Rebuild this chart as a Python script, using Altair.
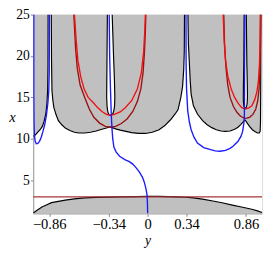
import altair as alt
import pandas as pd

GRAY = "#c0c0c0"
SERIF = "Liberation Serif, Times New Roman, serif"

# ---- upper shaded region: lower boundary (horizontal coord "y", vertical coord "x")
lobeA_y = [-1.0, -0.98, -0.96, -0.94, -0.92, -0.905, -0.89, -0.88, -0.874, -0.871, -0.870]
lobeA_x = [10.3, 10.5, 10.8, 11.1, 11.5, 12.1, 13.0, 14.3, 15.8, 19.0, 25.0]
lobeB_y = [-0.842, -0.840, -0.836, -0.828, -0.82, -0.80, -0.78, -0.75, -0.72, -0.68, -0.64,
           -0.60, -0.55, -0.50, -0.45, -0.40, -0.36, -0.34, -0.33]
lobeB_x = [25.0, 19.5, 15.8, 14.6, 13.8, 12.9, 12.2, 11.7, 11.3, 11.0, 10.8,
           10.7, 10.7, 10.8, 10.95, 11.15, 11.3, 11.4, 11.46]
lobeC_y = [-0.33, -0.31, -0.28, -0.24, -0.19, -0.14, -0.08, -0.02, 0.04, 0.10, 0.15,
           0.20, 0.24, 0.265, 0.29, 0.305, 0.315, 0.32, 0.322]
lobeC_x = [11.46, 11.35, 11.2, 11.05, 10.9, 10.75, 10.65, 10.65, 10.8, 11.1, 11.6,
           12.3, 13.0, 13.5, 15.0, 16.3, 18.3, 20.5, 25.0]
lobeD_y = [0.352, 0.356, 0.364, 0.372, 0.38, 0.40, 0.435, 0.48, 0.52, 0.56, 0.60,
           0.64, 0.68, 0.72, 0.76, 0.79, 0.815, 0.835, 0.85]
lobeD_x = [25.0, 21.5, 19.3, 17.0, 15.4, 14.0, 13.0, 12.2, 11.7, 11.35, 11.1,
           10.95, 10.9, 10.95, 11.15, 11.4, 11.75, 12.05, 12.3]
lobeE_y = [0.85, 0.87, 0.89, 0.915, 0.94, 0.96, 0.975, 0.983, 0.986, 0.988, 0.99]
lobeE_x = [12.3, 11.9, 11.5, 11.1, 10.85, 10.7, 10.7, 10.9, 12.0, 16.0, 25.0]

# ---- white islands (fingers) inside the shaded region: levels, left and right edges
isl1_lvl = [12.8, 12.9, 13.1, 13.5, 14.0, 15.0, 17.0, 20.0, 25.0]
isl1_l = [-0.325, -0.337, -0.345, -0.351, -0.355, -0.358, -0.357, -0.355, -0.352]
isl1_r = [-0.325, -0.312, -0.302, -0.294, -0.289, -0.287, -0.290, -0.298, -0.310]
isl2_lvl = [13.7, 13.8, 14.0, 14.4, 15.0, 16.5, 19.0, 25.0]
isl2_l = [0.853, 0.845, 0.840, 0.837, 0.836, 0.837, 0.840, 0.843]
isl2_r = [0.853, 0.861, 0.866, 0.870, 0.872, 0.871, 0.867, 0.862]

# ---- lower shaded region (upper boundary)
bot_y = [-1.0, -0.96, -0.92, -0.88, -0.84, -0.78, -0.72, -0.64, -0.55, -0.45, -0.356, -0.25,
         -0.1, 0.0, 0.1, 0.18, 0.26, 0.33, 0.40, 0.48, 0.57, 0.65, 0.74, 0.82, 0.91, 0.96, 1.0]
bot_x = [1.05, 1.45, 1.8, 2.05, 2.3, 2.45, 2.6, 2.75, 2.87, 2.93, 2.97, 3.0,
         3.03, 3.05, 3.05, 3.03, 3.0, 2.95, 2.87, 2.72, 2.5, 2.28, 2.0, 1.77, 1.5, 1.3, 1.1]

RED_LEVEL = 3.0

# ---- red curves
red1_y = [-0.64, -0.625, -0.61, -0.585, -0.555, -0.52, -0.47, -0.44, -0.40, -0.36, -0.33,
          -0.29, -0.24, -0.20, -0.14, -0.09, -0.055, -0.035, -0.025, -0.02]
red1_x = [25.0, 22.0, 19.5, 17.5, 16.0, 15.0, 14.3, 13.8, 13.3, 12.95, 12.85,
          12.95, 13.25, 13.7, 14.6, 16.0, 18.0, 20.5, 23.0, 25.0]
dred1_y = [-0.645, -0.63, -0.615, -0.59, -0.55, -0.51, -0.47, -0.42, -0.37, -0.33, -0.28,
           -0.23, -0.18, -0.13, -0.09, -0.06, -0.04, -0.028, -0.02, -0.016]
dred1_x = [25.0, 21.0, 18.5, 16.5, 15.0, 13.6, 12.6, 11.9, 11.5, 11.4, 11.5,
           11.85, 12.4, 13.3, 14.5, 16.0, 18.0, 20.5, 23.0, 25.0]
red2_y = [0.66, 0.668, 0.68, 0.70, 0.73, 0.76, 0.79, 0.82, 0.85, 0.88, 0.91,
          0.935, 0.955, 0.968, 0.977, 0.982, 0.984]
red2_x = [25.0, 22.0, 19.5, 17.6, 16.0, 15.0, 14.3, 13.8, 13.6, 13.7, 14.0,
          14.7, 15.7, 17.0, 19.0, 22.0, 25.0]
dred2_y = [0.665, 0.672, 0.685, 0.70, 0.72, 0.75, 0.78, 0.81, 0.85, 0.89, 0.92,
           0.945, 0.962, 0.973, 0.98, 0.985, 0.988]
dred2_x = [25.0, 21.5, 18.5, 16.5, 15.0, 13.9, 13.2, 12.75, 12.45, 12.6, 12.95,
           13.6, 14.6, 16.0, 18.0, 21.0, 25.0]

# ---- blue curves
blue1_y = [-0.995, -0.995, -0.993, -0.99, -0.983, -0.973, -0.96, -0.945, -0.93, -0.915,
           -0.90, -0.885, -0.872, -0.864, -0.86, -0.858]
blue1_x = [25.0, 16.0, 12.0, 10.5, 9.7, 9.4, 9.45, 9.7, 10.2, 10.9,
           11.7, 12.8, 14.3, 15.75, 18.0, 25.0]
blue2_y = [-0.336, -0.332, -0.325, -0.318, -0.312, -0.305, -0.295, -0.275, -0.245, -0.20,
           -0.16, -0.13, -0.10, -0.07, -0.045, -0.03, -0.015, -0.006, -0.002, 0.0]
blue2_x = [25.0, 20.0, 16.0, 13.0, 11.3, 10.0, 9.0, 8.4, 7.9, 7.5,
           7.25, 6.95, 6.5, 5.95, 5.35, 4.8, 4.0, 3.3, 2.3, 1.0]
blue3_y = [0.335, 0.336, 0.34, 0.35, 0.365, 0.38, 0.405, 0.435, 0.49, 0.55, 0.59, 0.633,
           0.68, 0.72, 0.746, 0.79, 0.815, 0.83, 0.84, 0.845, 0.846, 0.847, 0.85]
blue3_x = [25.0, 19.3, 16.0, 13.4, 12.0, 11.1, 10.2, 9.5, 8.95, 8.7, 8.55, 8.5,
           8.6, 8.85, 9.1, 9.7, 10.3, 10.9, 11.8, 12.6, 14.0, 19.3, 25.0]

X_TICKS = [-0.86, -0.34, 0, 0.34, 0.86]
Y_TICKS = [5, 10, 15, 20, 25]
TOP = 25.0


def seg(name, ys, xs):
    return pd.DataFrame({"y": ys, "x": xs, "k": name, "o": list(range(len(ys)))})


upper = pd.concat([seg("A", lobeA_y, lobeA_x), seg("B", lobeB_y, lobeB_x),
                   seg("C", lobeC_y, lobeC_x), seg("D", lobeD_y, lobeD_x),
                   seg("E", lobeE_y, lobeE_x)], ignore_index=True)
upper["top"] = TOP

islands = pd.concat([
    pd.DataFrame({"lvl": isl1_lvl, "l": isl1_l, "r": isl1_r, "k": "i1"}),
    pd.DataFrame({"lvl": isl2_lvl, "l": isl2_l, "r": isl2_r, "k": "i2"}),
], ignore_index=True)


def outline(name, lvl, left, right):
    ys = list(reversed(left)) + list(right)[1:]
    xs = list(reversed(lvl)) + list(lvl)[1:]
    return seg(name, ys, xs)


bottom = seg("bot", bot_y, bot_x)
bottom["base"] = 1.0

black = pd.concat([seg("A", lobeA_y, lobeA_x), seg("B", lobeB_y, lobeB_x),
                   seg("C", lobeC_y, lobeC_x), seg("D", lobeD_y, lobeD_x),
                   seg("E", lobeE_y, lobeE_x),
                   outline("i1", isl1_lvl, isl1_l, isl1_r),
                   outline("i2", isl2_lvl, isl2_l, isl2_r),
                   bottom[["y", "x", "k", "o"]]], ignore_index=True)

bright = pd.concat([seg("r1", red1_y, red1_x), seg("r2", red2_y, red2_x)], ignore_index=True)
dark = pd.concat([seg("d1", dred1_y, dred1_x), seg("d2", dred2_y, dred2_x)], ignore_index=True)
blues = pd.concat([seg("b1", blue1_y, blue1_x), seg("b2", blue2_y, blue2_x),
                   seg("b3", blue3_y, blue3_x)], ignore_index=True)
hline = pd.DataFrame({"y": [-1.0, 1.0], "x": [RED_LEVEL, RED_LEVEL], "k": "h", "o": [0, 1]})

XS = alt.Scale(domain=[-1, 1], nice=False, zero=False)
YS = alt.Scale(domain=[1, 25], nice=False, zero=False)

XAX = alt.Axis(values=X_TICKS, title="y", grid=False, tickSize=3, tickColor="#888",
               domainColor="#999", labelFont=SERIF, labelFontSize=15, labelColor="black",
               labelPadding=1,
               labelExpr="datum.value == 0 ? '0' : format(datum.value, '.2f')",
               titleFont=SERIF, titleFontStyle="italic", titleFontWeight="normal",
               titleFontSize=14, titleColor="black", titleY=32, titleBaseline="alphabetic")
YAX = alt.Axis(values=Y_TICKS, title="x", grid=False, tickSize=3, tickColor="#888",
               domainColor="#999", labelFont=SERIF, labelFontSize=14, labelColor="black",
               labelPadding=1,
               titleFont=SERIF, titleFontStyle="italic", titleFontWeight="normal",
               titleFontSize=15, titleColor="black", titleAngle=0, titleX=-22, titleY=105,
               titleAlign="center", titleBaseline="middle")


def X(field):
    return alt.X(field, type="quantitative", scale=XS, axis=XAX)


def Y(field):
    return alt.Y(field, type="quantitative", scale=YS, axis=YAX)


gray_up = alt.Chart(upper).mark_area(color=GRAY, clip=True, opacity=1).encode(
    x=X("y"), y=Y("x"), y2="top")
white_isl = alt.Chart(islands).mark_area(color="white", orient="horizontal", clip=True,
                                         opacity=1).encode(
    y=Y("lvl"), x=X("l"), x2="r", detail="k:N")
gray_bot = alt.Chart(bottom).mark_area(color=GRAY, clip=True, opacity=1).encode(
    x=X("y"), y=Y("x"), y2="base")


def lines(df, color, width):
    return alt.Chart(df).mark_line(color=color, strokeWidth=width, clip=True).encode(
        x=X("y"), y=Y("x"), detail="k:N", order="o:Q")


chart = alt.layer(
    gray_up, white_isl, gray_bot,
    lines(black, "black", 1.2),
    lines(hline, "#a83232", 1.3),
    lines(dark, "#9a1010", 1.4),
    lines(bright, "#f01010", 1.4),
    lines(blues, "#1a1aff", 1.4),
).properties(
    width=236, height=205,
    autosize=alt.AutoSizeParams(type="none"),
    padding={"left": 26, "top": 3, "right": 3, "bottom": 35},
).configure_view(stroke="#555", strokeWidth=1).configure(background="white")

chart.save("out.html", embed_options={"renderer": "svg", "actions": False})
